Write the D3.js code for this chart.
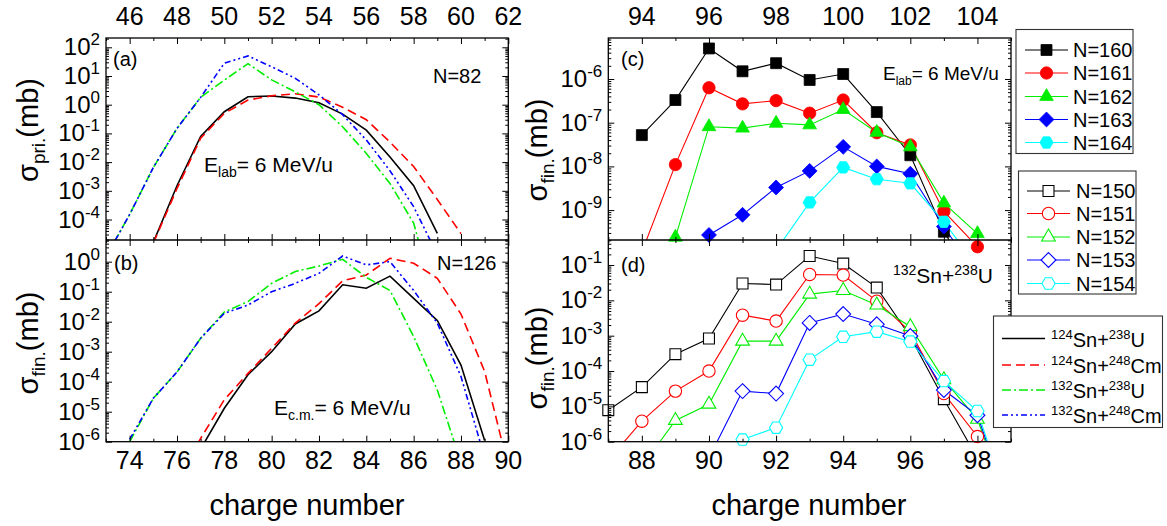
<!DOCTYPE html>
<html>
<head>
<meta charset="utf-8">
<script src="https://cdn.jsdelivr.net/npm/d3@7"></script>
<style>
  body { margin: 0; background: #fff; }
  text { font-family: Arial, "Liberation Sans", Helvetica, sans-serif; fill: #000; }
</style>
</head>
<body>
<svg id="chart" width="1167" height="526"></svg>
<script>
// ---- data ----
// panel (a): primary cross sections, N=82, proton number 45..61
var zPri     = [45,46,47,48,49,50,51,52,53,54,55,56,57,58,59,60,61];
var pri124U  = [null,null,1.6e-5,1.5e-3,0.078,0.57,1.9,2.0,1.7,1.17,0.47,0.13,0.015,1.5e-3,3.3e-5,null,null];
var pri124Cm = [null,null,1.5e-5,1.2e-3,0.068,0.5,1.45,2.05,2.4,1.85,0.81,0.3,0.05,7e-3,5e-4,3.2e-5,null];
var pri132U  = [5e-6,1.5e-4,6.5e-3,0.15,1.8,7.2,27,7.3,2.8,1.0,0.17,0.02,1.8e-3,7.5e-5,7.5e-8,null,null];
var pri132Cm = [5e-6,1.5e-4,6.5e-3,0.15,1.8,28,50,21,8.3,2.2,0.45,0.059,5e-3,2.8e-4,6e-6,null,null];

// panel (b): final cross sections, N=126, proton number 73..90
var zFin     = [73,74,75,76,77,78,79,80,81,82,83,84,85,86,87,88,89,90];
var fin124U  = [null,null,null,null,5.7e-7,1.3e-5,1.7e-4,1e-3,8.4e-3,0.023,0.17,0.13,0.33,0.06,0.011,3.6e-4,1.1e-6,null];
var fin124Cm = [null,null,null,5e-8,1.3e-6,2.5e-5,1.9e-4,1.3e-3,9e-3,0.04,0.23,0.36,1.3,0.89,0.28,0.018,2.2e-4,1.4e-7];
var fin132U  = [null,1e-6,2.8e-5,2.1e-4,2.8e-3,0.021,0.047,0.19,0.47,0.72,1.2,0.3,0.11,3.2e-3,5.3e-5,2e-7,null,null];
var fin132Cm = [null,1.2e-6,2.8e-5,2.1e-4,2.8e-3,0.019,0.036,0.1,0.19,0.41,1.55,0.78,1.0,0.11,9e-3,1.5e-4,3e-7,null];

// panel (c): 132Sn+238U, N=160..164, proton number 94..104
var zC   = [94,95,96,97,98,99,100,101,102,103,104];
var c160 = [5.2e-8,3.3e-7,5e-6,1.5e-6,2.3e-6,9.5e-7,1.3e-6,1.75e-7,1.8e-8,3.2e-10,2e-11];
var c161 = [1.1e-10,1.1e-8,6.3e-7,2.7e-7,3.2e-7,1.65e-7,3.3e-7,5.9e-8,3.1e-8,9.3e-10,1.45e-10];
var c162 = [null,2.4e-10,8.1e-8,7.5e-8,9.7e-8,8.9e-8,2.0e-7,6e-8,2.8e-8,1.45e-9,2.9e-10];
var c163 = [null,null,2.7e-10,7.8e-10,3.3e-9,7.9e-9,2.8e-8,1e-8,6.8e-9,4.2e-10,3e-11];
var c164 = [null,null,null,null,1.2e-10,1.5e-9,9.5e-9,5.1e-9,4.1e-9,5.4e-10,5e-11];

// panel (d): 132Sn+238U, N=150..154, proton number 87..99
var zD   = [87,88,89,90,91,92,93,94,95,96,97,98,99];
var d150 = [7.8e-6,3.5e-5,3.0e-4,8.3e-4,0.03,0.028,0.18,0.11,0.023,9.3e-4,1.6e-5,3.4e-7,null];
var d151 = [3e-7,3.8e-6,2.7e-5,1.0e-4,3.8e-3,2.6e-3,0.054,0.052,9.5e-3,1.3e-3,2.3e-5,1.4e-6,1e-8];
var d152 = [null,2e-7,4e-6,1.15e-5,7e-4,7e-4,0.015,0.019,7.4e-3,1.8e-3,5.7e-5,4.3e-6,1e-8];
var d153 = [null,null,null,3.5e-7,2.7e-5,2.3e-5,2.3e-3,4.1e-3,2.1e-3,9.8e-4,2.9e-5,5.6e-6,1e-8];
var d154 = [null,null,null,null,1.15e-6,2.5e-6,2.1e-4,9.3e-4,1.3e-3,6.8e-4,5.2e-5,7.4e-6,1e-8];

var topTicksA = [46,48,50,52,54,56,58,60,62];
var botTicksB = [74,76,78,80,82,84,86,88,90];
var topTicksC = [94,96,98,100,102,104];
var botTicksD = [88,90,92,94,96,98];
var expA = [2,1,0,-1,-2,-3,-4];
var expB = [0,-1,-2,-3,-4,-5,-6];
var expC = [-6,-7,-8,-9];
var expD = [-1,-2,-3,-4,-5,-6];

var reactions = ["124Sn+238U", "124Sn+248Cm", "132Sn+238U", "132Sn+248Cm"];
var labelsC = ["N=160","N=161","N=162","N=163","N=164"];
var labelsD = ["N=150","N=151","N=152","N=153","N=154"];

// ---- layout ----
var svg = d3.select("#chart");
var LX0 = 106, LX1 = 508.3, RX0 = 608.3, RX1 = 1011;
var Y0 = 38, YM = 240, Y1 = 441.7;

var xA = d3.scaleLinear().domain([45,62]).range([LX0,LX1]);
var xB = d3.scaleLinear().domain([73,90]).range([LX0,LX1]);
var xC = d3.scaleLinear().domain([93,105]).range([RX0,RX1]);
var xD = d3.scaleLinear().domain([87,99]).range([RX0,RX1]);
var yA = d3.scaleLog().domain([Math.pow(10,-4.714), Math.pow(10,2.324)]).range([YM,Y0]);
var yB = d3.scaleLog().domain([1e-6, Math.pow(10,0.723)]).range([Y1,YM]);
var yC = d3.scaleLog().domain([Math.pow(10,-9.684), Math.pow(10,-5.062)]).range([YM,Y0]);
var yD = d3.scaleLog().domain([1e-6, Math.pow(10,-0.292)]).range([Y1,YM]);

var lineColors = ["#000000","#ff0000","#00ee00","#0000ff"];
var lineDash = [null, "9,5", "9,3,2,3", "6,3,2,3,2,3"];
var mColors = ["#000000","#ff0000","#00ee00","#0000ff","#00ffff"];

var defs = svg.append("defs");
function clip(id, x0, y0, x1, y1) {
  defs.append("clipPath").attr("id", id)
    .append("rect").attr("x", x0).attr("y", y0).attr("width", x1 - x0).attr("height", y1 - y0);
  return "url(#" + id + ")";
}

// marker shapes
var shapes = {
  square: { draw: function(c, s) { var r = Math.sqrt(s) / 2; c.rect(-r, -r, 2*r, 2*r); } },
  circle: { draw: function(c, s) { var r = Math.sqrt(s / Math.PI); c.moveTo(r, 0); c.arc(0, 0, r, 0, 2*Math.PI); } },
  triangle: { draw: function(c, s) { var a = Math.sqrt(s) * 1.25; var h = a * Math.sqrt(3) / 2;
      c.moveTo(0, -h*2/3); c.lineTo(a/2, h/3); c.lineTo(-a/2, h/3); c.closePath(); } },
  diamond: { draw: function(c, s) { var r = Math.sqrt(s) * 0.68;
      c.moveTo(0, -r); c.lineTo(r, 0); c.lineTo(0, r); c.lineTo(-r, 0); c.closePath(); } },
  hexagon: { draw: function(c, s) { var r = Math.sqrt(s) * 0.6;
      for (var i = 0; i < 6; i++) { var a = i * Math.PI / 3;
        if (i === 0) c.moveTo(r*Math.cos(a), r*Math.sin(a)); else c.lineTo(r*Math.cos(a), r*Math.sin(a)); }
      c.closePath(); } }
};
var shapeOrder = ["square","circle","triangle","diamond","hexagon"];

function toPts(zs, vs) { return zs.map(function(z, i) { return {z: z, v: vs[i]}; }); }

// curves (a),(b)
function drawCurves(x, y, zs, series, clipUrl) {
  var g = svg.append("g").attr("clip-path", clipUrl);
  series.forEach(function(vs, i) {
    var line = d3.line().defined(function(d) { return d.v != null; })
      .x(function(d) { return x(d.z); }).y(function(d) { return y(d.v); });
    g.append("path").datum(toPts(zs, vs))
      .attr("d", line).attr("fill", "none")
      .attr("stroke", lineColors[i]).attr("stroke-width", 1.6)
      .attr("stroke-dasharray", lineDash[i]);
  });
}

// marker series (c),(d)
function drawMarked(x, y, zs, series, clipUrl, open, yLimit) {
  var gl = svg.append("g").attr("clip-path", clipUrl);
  var gm = svg.append("g");
  series.forEach(function(vs, i) {
    var pts = toPts(zs, vs);
    var line = d3.line().defined(function(d) { return d.v != null; })
      .x(function(d) { return x(d.z); }).y(function(d) { return y(d.v); });
    gl.append("path").datum(pts).attr("d", line).attr("fill", "none")
      .attr("stroke", mColors[i]).attr("stroke-width", 1.1);
    var sym = d3.symbol().type(shapes[shapeOrder[i]]).size(120);
    gm.selectAll(null)
      .data(pts.filter(function(d) { return d.v != null && y(d.v) <= yLimit; }))
      .enter().append("path")
      .attr("transform", function(d) { return "translate(" + x(d.z) + "," + y(d.v) + ")"; })
      .attr("d", sym)
      .attr("fill", open ? "#fff" : mColors[i])
      .attr("stroke", mColors[i])
      .attr("stroke-width", open ? 1.1 : 0.8);
  });
}

drawCurves(xA, yA, zPri, [pri124U, pri124Cm, pri132U, pri132Cm], clip("ca", LX0, Y0, LX1, YM));
drawCurves(xB, yB, zFin, [fin124U, fin124Cm, fin132U, fin132Cm], clip("cb", LX0, YM, LX1, Y1));
drawMarked(xC, yC, zC, [c160, c161, c162, c163, c164], clip("cc", RX0, Y0, RX1, YM), false, YM + 8);
drawMarked(xD, yD, zD, [d150, d151, d152, d153, d154], clip("cd", RX0, YM, RX1, Y1), true, Y1 + 8);

// ---- axes ----
function logMinors(y) {
  var dom = y.domain(), out = [];
  for (var e = Math.floor(Math.log10(dom[0])); e <= Math.ceil(Math.log10(dom[1])); e++)
    for (var k = 2; k <= 9; k++) { var v = k * Math.pow(10, e); if (v > dom[0] && v < dom[1]) out.push(v); }
  return out;
}
function yAxes(y, x0, x1, exps) {
  var majors = exps.map(function(e) { return Math.pow(10, e); });
  [[d3.axisLeft, x0], [d3.axisRight, x1]].forEach(function(p) {
    svg.append("g").attr("transform", "translate(" + p[1] + ",0)")
      .call(p[0](y).tickValues(majors).tickSize(-6).tickFormat(""));
    svg.append("g").attr("transform", "translate(" + p[1] + ",0)")
      .call(p[0](y).tickValues(logMinors(y)).tickSize(-3).tickFormat(""));
  });
  var t = svg.append("g").selectAll("text").data(exps).enter().append("text")
    .attr("x", x0 - 6).attr("y", function(e) { return y(Math.pow(10, e)) + 8; })
    .attr("text-anchor", "end").style("font-size", "24px");
  t.append("tspan").text("10");
  t.append("tspan").attr("dy", -10).style("font-size", "17px").text(function(e) { return e < 0 ? "-" + (-e) : e; });
}
function xAxes(x, yPos, up, down, majors) {
  var dom = x.domain(), minors = d3.range(Math.ceil(dom[0]), dom[1] + 0.001).filter(function(v) { return majors.indexOf(v) < 0; });
  if (up) {
    svg.append("g").attr("transform", "translate(0," + yPos + ")").call(d3.axisBottom(x).tickValues(majors).tickSize(-6).tickFormat(""));
    svg.append("g").attr("transform", "translate(0," + yPos + ")").call(d3.axisBottom(x).tickValues(minors).tickSize(-3).tickFormat(""));
  }
  if (down) {
    svg.append("g").attr("transform", "translate(0," + yPos + ")").call(d3.axisTop(x).tickValues(majors).tickSize(-6).tickFormat(""));
    svg.append("g").attr("transform", "translate(0," + yPos + ")").call(d3.axisTop(x).tickValues(minors).tickSize(-3).tickFormat(""));
  }
}
function xLabels(x, vals, yPos) {
  svg.append("g").selectAll("text").data(vals).enter().append("text")
    .attr("x", function(v) { return x(v); }).attr("y", yPos)
    .attr("text-anchor", "middle").style("font-size", "25px").text(function(v) { return v; });
}

yAxes(yA, LX0, LX1, expA);
yAxes(yB, LX0, LX1, expB);
yAxes(yC, RX0, RX1, expC);
yAxes(yD, RX0, RX1, expD);
xAxes(xA, Y0, false, true, topTicksA);
xAxes(xA, YM, true, true, topTicksA);
xAxes(xB, Y1, true, false, botTicksB);
xAxes(xC, Y0, false, true, topTicksC);
xAxes(xC, YM, true, true, topTicksC);
xAxes(xD, Y1, true, false, botTicksD);
svg.selectAll(".domain").remove();
svg.selectAll(".tick line").attr("stroke", "#000").attr("stroke-width", 1);

xLabels(xA, topTicksA, 25);
xLabels(xB, botTicksB, 469);
xLabels(xC, topTicksC, 25);
xLabels(xD, botTicksD, 469);

// frames
[[LX0, LX1], [RX0, RX1]].forEach(function(p) {
  svg.append("rect").attr("x", p[0]).attr("y", Y0).attr("width", p[1] - p[0]).attr("height", Y1 - Y0)
    .attr("fill", "none").attr("stroke", "#000").attr("stroke-width", 1.3);
  svg.append("line").attr("x1", p[0]).attr("x2", p[1]).attr("y1", YM).attr("y2", YM)
    .attr("stroke", "#000").attr("stroke-width", 1.3);
});

// ---- titles and annotations ----
function yTitle(xp, yp, sub) {
  var t = svg.append("text").attr("transform", "translate(" + xp + "," + yp + ") rotate(-90)")
    .attr("text-anchor", "middle").style("font-size", "29px");
  t.append("tspan").text("\u03c3");
  t.append("tspan").attr("dy", 7).style("font-size", "19px").text(sub);
  t.append("tspan").attr("dy", -7).text("(mb)");
}
yTitle(38, 130, "pri.");
yTitle(38, 343, "fin.");
yTitle(547, 150, "fin.");
yTitle(547, 358, "fin.");

svg.append("text").attr("x", 307).attr("y", 515).attr("text-anchor", "middle").style("font-size", "29px").text("charge number");
svg.append("text").attr("x", 809).attr("y", 515).attr("text-anchor", "middle").style("font-size", "29px").text("charge number");

function plain(x, y, s, size) {
  svg.append("text").attr("x", x).attr("y", y).style("font-size", size + "px").text(s);
}
plain(113, 66, "(a)", 20);
plain(114, 270, "(b)", 20);
plain(621, 66, "(c)", 20);
plain(621, 272, "(d)", 20);
plain(433, 83, "N=82", 20);
plain(437, 270, "N=126", 20);

function energy(x, y, sub, size) {
  var t = svg.append("text").attr("x", x).attr("y", y).style("font-size", size + "px");
  t.append("tspan").text("E");
  t.append("tspan").attr("dy", 5).style("font-size", Math.round(size * 0.65) + "px").text(sub);
  t.append("tspan").attr("dy", -5).text("= 6 MeV/u");
}
energy(204, 172, "lab", 21);
energy(274, 415, "c.m.", 21);
energy(883, 80, "lab", 19);

function reaction(sel, s, size) {
  var m = s.match(/^(\d+)(\w+)\+(\d+)(\w+)$/);
  var sup = Math.round(size * 0.65);
  sel.append("tspan").attr("dy", -8).style("font-size", sup + "px").text(m[1]);
  sel.append("tspan").attr("dy", 8).style("font-size", size + "px").text(m[2] + "+");
  sel.append("tspan").attr("dy", -8).style("font-size", sup + "px").text(m[3]);
  sel.append("tspan").attr("dy", 8).style("font-size", size + "px").text(m[4]);
}
reaction(svg.append("text").attr("x", 893).attr("y", 283), "132Sn+238U", 21);

// ---- legends ----
function markerLegend(bx, by, bw, bh, rowY, lx0, lx1, tx, labels, open) {
  svg.append("rect").attr("x", bx).attr("y", by).attr("width", bw).attr("height", bh)
    .attr("fill", "#fff").attr("stroke", "#333").attr("stroke-width", 1.1);
  labels.forEach(function(lab, i) {
    var yy = rowY[i];
    svg.append("line").attr("x1", lx0).attr("x2", lx1).attr("y1", yy).attr("y2", yy)
      .attr("stroke", mColors[i]).attr("stroke-width", 1.2);
    svg.append("path").attr("transform", "translate(" + ((lx0 + lx1) / 2) + "," + yy + ")")
      .attr("d", d3.symbol().type(shapes[shapeOrder[i]]).size(120))
      .attr("fill", open ? "#fff" : mColors[i]).attr("stroke", mColors[i]).attr("stroke-width", open ? 1.1 : 0.8);
    svg.append("text").attr("x", tx).attr("y", yy + 7).style("font-size", "20px").text(lab);
  });
}
markerLegend(1016, 29.5, 117, 124, [50, 73, 96.5, 119.5, 142.5], 1025, 1068, 1073, labelsC, false);
markerLegend(1018.5, 171, 117.5, 123, [191, 213.5, 237, 260, 283.5], 1027, 1070, 1076, labelsD, true);

svg.append("rect").attr("x", 993.5).attr("y", 316).attr("width", 169).attr("height", 111.5)
  .attr("fill", "#fff").attr("stroke", "#333").attr("stroke-width", 1.1);
var legRows = [338.5, 365, 390, 415];
reactions.forEach(function(r, i) {
  svg.append("line").attr("x1", 1002).attr("x2", 1045).attr("y1", legRows[i]).attr("y2", legRows[i])
    .attr("stroke", lineColors[i]).attr("stroke-width", 1.6).attr("stroke-dasharray", lineDash[i]);
  reaction(svg.append("text").attr("x", 1051).attr("y", legRows[i] + 8), r, 20);
});
</script>
</body>
</html>
